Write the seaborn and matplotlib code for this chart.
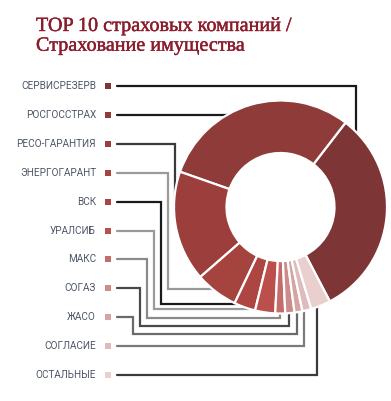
import numpy as np
import matplotlib
matplotlib.use("Agg")
import matplotlib.pyplot as plt
import matplotlib.patheffects as pe
import seaborn as sns

# ---- data ----
companies = ["СЕРВИСРЕЗЕРВ", "РОСГОССТРАХ", "РЕСО-ГАРАНТИЯ", "ЭНЕРГОГАРАНТ", "ВСК",
             "УРАЛСИБ", "МАКС", "СОГАЗ", "ЖАСО", "СОГЛАСИЕ", "ОСТАЛЬНЫЕ"]
shares = [31.9, 30.1, 16.8, 6.5, 3.25, 3.05, 1.5, 1.4, 1.2, 1.36, 3.0]
colors = ["#7e3535", "#8f3b3a", "#9b3e3c", "#a5433f", "#ad4643", "#bb4f4c",
          "#c46c6b", "#cd8c8b", "#d6a4a3", "#dfbcbb", "#e9cfce"]
line_colors = ["#1a1a1a", "#1a1a1a", "#3a3a3a", "#9a9a9a", "#1a1a1a", "#9a9a9a",
               "#8a8a8a", "#4a4a4a", "#6a6a6a", "#7a7a7a", "#3a3a3a"]
title = "TOP 10 страховых компаний /\nСтрахование имущества"

sns.set_theme(style="white")
plt.rcParams['font.family'] = ['DejaVu Sans']

W, H = 391, 401
fig = plt.figure(figsize=(W / 100, H / 100), dpi=100)
ax = fig.add_axes([0, 0, 1, 1])

# layout (pixel space, y downward)
cx, cy, R, r_in = 280.5, 207.0, 106.5, 54.0
start_screen = 297.6  # screen angle where the first wedge starts

wedges, _ = ax.pie(shares, colors=colors, center=(cx, cy), radius=R,
                   startangle=-start_screen, counterclock=False,
                   wedgeprops=dict(width=R - r_in, edgecolor="white", linewidth=1.6))
for w in wedges:
    w.set_zorder(5)

ax.set_xlim(0, W)
ax.set_ylim(H, 0)
ax.set_aspect("auto")
ax.axis("off")

# screen mid-angles of wedges
tot = sum(shares)
bounds = start_screen + np.concatenate([[0], np.cumsum(shares)]) / tot * 360
mids = (bounds[:-1] + bounds[1:]) / 2

# legend
y0, step = 86.0, 28.9
x_text, x_mark, x_line = 96, 108, 117
ys = [y0 + i * step for i in range(len(companies))]
for i, (name, col) in enumerate(zip(companies, colors)):
    ax.text(x_text, ys[i], name, ha="right", va="center", fontsize=7.2,
            color="#4e5668", family=["Roboto", "DejaVu Sans"])
    ax.scatter([x_mark], [ys[i]], marker="s", s=14, color=col, linewidths=0, zorder=6)


def pt(angle, k):
    a = np.deg2rad(angle)
    return cx + k * R * np.cos(a), cy - k * R * np.sin(a)


routes = []
# 0: to the right wedge from top
ex, _ = pt(bounds[1] - 7.5, 1.0)
_, ey = pt(bounds[1] - 7.5, 0.8)
routes.append([(x_line, ys[0]), (ex, ys[0]), (ex, ey)])
# 1: straight into top wedge
ex, _ = pt(120, 0.8)
routes.append([(x_line, ys[1]), (ex, ys[1])])
# 2: elbow down into left wedge
elbow_x = [175 - 7 * k for k in range(7)]
routes.append([(x_line, ys[2]), (elbow_x[0], ys[2]), (elbow_x[0], cy)])
# 3-5: elbow down, then right into wedge
for j, i in enumerate([3, 4, 5]):
    ex, ey = pt(mids[i], 0.97)
    routes.append([(x_line, ys[i]), (elbow_x[j + 1], ys[i]), (elbow_x[j + 1], ey), (ex + 12, ey)])
# 6-8: elbow down below pie, right, then up into wedge
bottom = cy + R
for j, i in enumerate([6, 7, 8]):
    ex, ey = pt(mids[i], 0.9)
    yb = bottom + 4.5 + 8 * j
    routes.append([(x_line, ys[i]), (elbow_x[j + 4], ys[i]), (elbow_x[j + 4], yb), (ex, yb), (ex, ey)])
# 9-10: straight right, then up
for i in [9, 10]:
    ex, ey = pt(mids[i], 0.9)
    routes.append([(x_line, ys[i]), (ex, ys[i]), (ex, ey)])

for i, route in enumerate(routes):
    xs, yy = zip(*route)
    ax.plot(xs, yy, color=line_colors[i], lw=1.6, zorder=2, solid_joinstyle="miter")

ax.text(36, 16.5, title, ha="left", va="top", fontsize=14.5, color="#8a1c2c",
        family=["Liberation Serif", "DejaVu Serif"], linespacing=1.05,
        path_effects=[pe.withStroke(linewidth=0.3, foreground="#8a1c2c")])

fig.savefig("out.png", dpi=100)
